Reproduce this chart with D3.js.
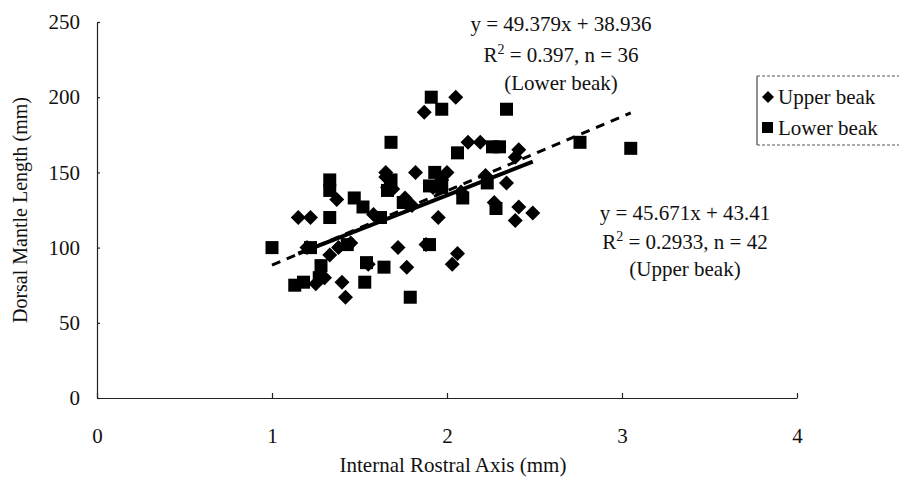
<!DOCTYPE html>
<html>
<head>
<meta charset="utf-8">
<script src="https://cdn.jsdelivr.net/npm/d3@7"></script>
<style>
  html, body { margin: 0; padding: 0; background: #fff; }
  svg text { font-family: "Liberation Serif", "Times New Roman", serif; fill: #111; }
</style>
</head>
<body>
<svg id="chart" width="899" height="480"></svg>
<script>
// Upper beak measurements: internal rostral axis (mm) vs dorsal mantle length (mm)
const upperX = [1.15, 1.22, 1.37, 1.38, 1.33, 1.40, 1.42, 1.65, 1.65, 1.82, 1.76, 1.72, 1.77, 1.95,
                1.88, 2.06, 2.03, 1.87, 2.05, 2.12, 2.19, 2.41, 2.39, 2.34, 2.41, 2.49, 2.39, 2.08,
                1.66, 1.25, 1.58, 1.45, 2.27, 1.92, 2.22, 1.69, 1.97, 1.55, 1.30, 2.00, 1.80, 1.20];
const upperY = [120, 120, 132, 100, 95, 77, 67, 150, 147, 150, 133, 100, 87, 120,
                102, 96, 89, 190, 200, 170, 170, 165, 160, 143, 127, 123, 118, 137,
                140, 76, 122, 103, 130, 140, 148, 139, 145, 89, 80, 150, 128, 100];

// Lower beak measurements
const lowerX = [1.00, 1.13, 1.18, 1.22, 1.27, 1.28, 1.33, 1.33, 1.33, 1.43, 1.47, 1.52, 1.54, 1.53,
                1.62, 1.64, 1.68, 1.68, 1.66, 1.75, 1.79, 1.91, 1.97, 1.93, 1.90, 1.97, 1.90, 2.06,
                2.09, 2.23, 2.26, 2.30, 2.28, 2.34, 2.76, 3.05];
const lowerY = [100, 75, 77, 100, 80, 88, 145, 138, 120, 102, 133, 127, 90, 77,
                120, 87, 170, 145, 138, 130, 67, 200, 192, 150, 141, 140, 102, 163,
                133, 143, 167, 167, 126, 192, 170, 166];

// Linear fits
const upperFit = { slope: 45.671, intercept: 43.41 };
const lowerFit = { slope: 49.379, intercept: 38.936 };

const xTicks = [0, 1, 2, 3, 4];
const yTicks = [0, 50, 100, 150, 200, 250];

const svg = d3.select("#chart");
const x = d3.scaleLinear().domain([0, 4]).range([97, 797]);
const y = d3.scaleLinear().domain([0, 250]).range([398, 22]);

// Axes
const yAxis = svg.append("g").attr("transform", `translate(${x(0)},0)`)
  .call(d3.axisLeft(y).tickValues(yTicks).tickFormat(d3.format("d"))
    .tickSizeInner(-3).tickSizeOuter(0).tickPadding(17));
const xAxis = svg.append("g").attr("transform", `translate(0,${y(0)})`)
  .call(d3.axisBottom(x).tickValues(xTicks).tickFormat(d3.format("d"))
    .tickSizeInner(-5).tickSizeOuter(0).tickPadding(30));
[xAxis, yAxis].forEach(g => {
  g.selectAll("path, line").attr("stroke", "#222").attr("stroke-width", 1.2);
  g.selectAll("text").attr("font-size", 21).attr("font-family", "Liberation Serif");
});

// Regression lines
const upperExt = d3.extent(upperX);
const lowerExt = d3.extent(lowerX);
const fitLine = (fit, ext) => ext.map(v => [x(v), y(fit.slope * v + fit.intercept)]);
svg.append("path")
  .attr("d", d3.line()(fitLine(lowerFit, lowerExt)))
  .attr("stroke", "#000").attr("stroke-width", 3).attr("stroke-dasharray", "9,7").attr("fill", "none");
svg.append("path")
  .attr("d", d3.line()(fitLine(upperFit, upperExt)))
  .attr("stroke", "#000").attr("stroke-width", 4).attr("fill", "none");

// Markers
const sq = 13, dia = 7.5;
svg.append("g").selectAll("rect").data(d3.range(lowerX.length)).join("rect")
  .attr("x", i => x(lowerX[i]) - sq / 2).attr("y", i => y(lowerY[i]) - sq / 2)
  .attr("width", sq).attr("height", sq).attr("fill", "#000");
svg.append("g").selectAll("path").data(d3.range(upperX.length)).join("path")
  .attr("transform", i => `translate(${x(upperX[i])},${y(upperY[i])})`)
  .attr("d", `M0,${-dia}L${dia},0L0,${dia}L${-dia},0Z`).attr("fill", "#000");

// Axis titles
svg.append("text").attr("x", 453).attr("y", 472).attr("text-anchor", "middle")
  .attr("font-size", 21).text("Internal Rostral Axis (mm)");
svg.append("text").attr("transform", "translate(27,210) rotate(-90)").attr("text-anchor", "middle")
  .attr("font-size", 20).text("Dorsal Mantle Length (mm)");

// Fit annotations
function annotate(cx, lines) {
  const g = svg.append("g").attr("font-size", 21).attr("text-anchor", "middle");
  lines.forEach(([yy, parts]) => {
    const t = g.append("text").attr("x", cx).attr("y", yy);
    parts.forEach(p => {
      if (typeof p === "string") t.append("tspan").text(p);
      else {
        t.append("tspan").attr("font-size", 14).attr("dy", -8).text(p.sup);
        t.append("tspan").attr("dy", 8).text(p.after);
      }
    });
  });
}
annotate(561, [
  [31, ["y = 49.379x + 38.936"]],
  [62, ["R", { sup: "2", after: " = 0.397, n = 36" }]],
  [90, ["(Lower beak)"]]
]);
annotate(685, [
  [220, ["y = 45.671x + 43.41"]],
  [249, ["R", { sup: "2", after: " = 0.2933, n = 42" }]],
  [276, ["(Upper beak)"]]
]);

// Legend
const lg = svg.append("g");
lg.append("line").attr("x1", 757).attr("x2", 757).attr("y1", 76).attr("y2", 145).attr("stroke", "#222");
lg.append("line").attr("x1", 757).attr("x2", 899).attr("y1", 76).attr("y2", 76)
  .attr("stroke", "#555").attr("stroke-dasharray", "3,2");
lg.append("line").attr("x1", 757).attr("x2", 899).attr("y1", 145).attr("y2", 145)
  .attr("stroke", "#555").attr("stroke-dasharray", "3,2");
lg.append("path").attr("transform", "translate(768,97)")
  .attr("d", `M0,-6L6,0L0,6L-6,0Z`).attr("fill", "#000");
lg.append("rect").attr("x", 762).attr("y", 122).attr("width", 11).attr("height", 11).attr("fill", "#000");
lg.append("text").attr("x", 778).attr("y", 104).attr("font-size", 21).text("Upper beak");
lg.append("text").attr("x", 778).attr("y", 135).attr("font-size", 21).text("Lower beak");
</script>
</body>
</html>
